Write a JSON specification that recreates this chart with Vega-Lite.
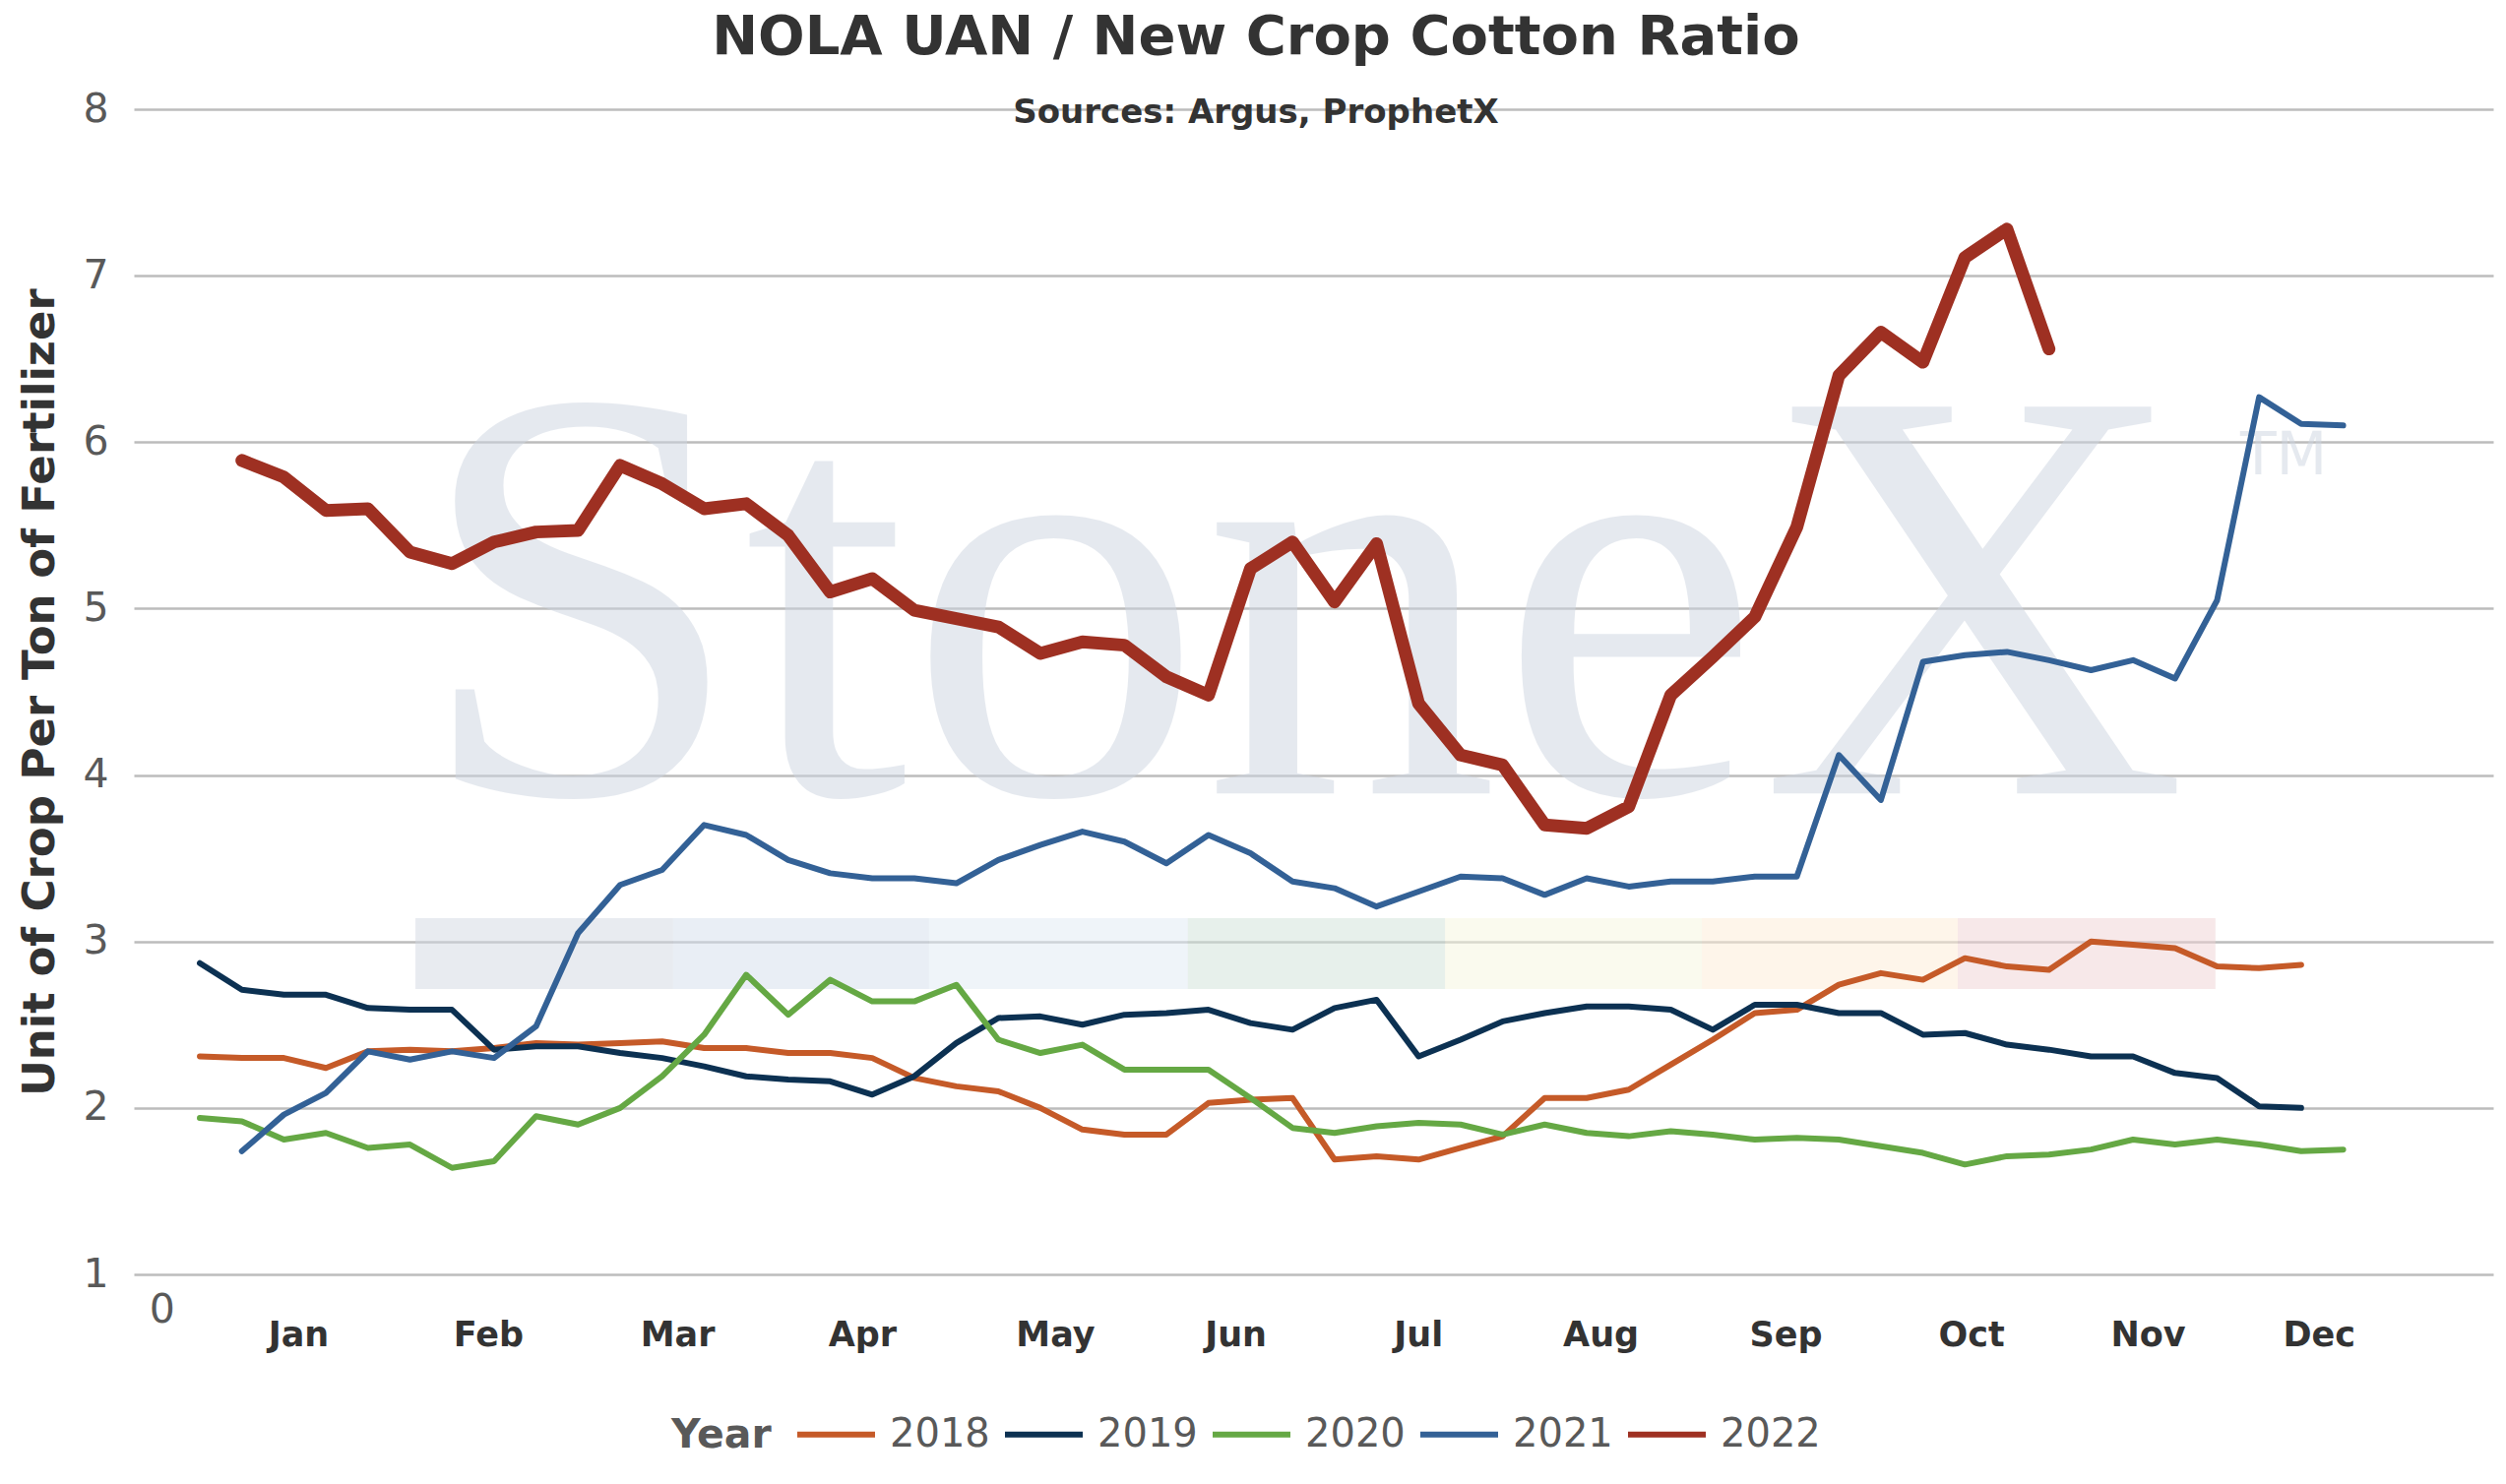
{
  "$schema": "https://vega.github.io/schema/vega-lite/v6.json",
  "width": 2397,
  "height": 1184,
  "autosize": {"type": "none"},
  "padding": {"left": 136, "top": 111, "right": 13, "bottom": 213},
  "background": "white",
  "title": {
    "text": "NOLA UAN / New Crop Cotton Ratio",
    "subtitle": "Sources: Argus, ProphetX",
    "fontSize": 56,
    "fontWeight": "bold",
    "color": "#333333",
    "subtitleFontSize": 34,
    "subtitleFontWeight": "bold",
    "subtitleColor": "#333333",
    "subtitlePadding": 31,
    "anchor": "middle",
    "frame": "bounds",
    "offset": -43
  },
  "datasets": {
    "series": [
      {"year": "2018", "week": 0, "ratio": 2.31}, {"year": "2018", "week": 1, "ratio": 2.30}, {"year": "2018", "week": 2, "ratio": 2.30}, {"year": "2018", "week": 3, "ratio": 2.24}, {"year": "2018", "week": 4, "ratio": 2.34}, {"year": "2018", "week": 5, "ratio": 2.35}, {"year": "2018", "week": 6, "ratio": 2.34}, {"year": "2018", "week": 7, "ratio": 2.36}, {"year": "2018", "week": 8, "ratio": 2.39}, {"year": "2018", "week": 9, "ratio": 2.38},
      {"year": "2018", "week": 10, "ratio": 2.39}, {"year": "2018", "week": 11, "ratio": 2.40}, {"year": "2018", "week": 12, "ratio": 2.36}, {"year": "2018", "week": 13, "ratio": 2.36}, {"year": "2018", "week": 14, "ratio": 2.33}, {"year": "2018", "week": 15, "ratio": 2.33}, {"year": "2018", "week": 16, "ratio": 2.30}, {"year": "2018", "week": 17, "ratio": 2.18}, {"year": "2018", "week": 18, "ratio": 2.13}, {"year": "2018", "week": 19, "ratio": 2.10},
      {"year": "2018", "week": 20, "ratio": 2.00}, {"year": "2018", "week": 21, "ratio": 1.87}, {"year": "2018", "week": 22, "ratio": 1.84}, {"year": "2018", "week": 23, "ratio": 1.84}, {"year": "2018", "week": 24, "ratio": 2.03}, {"year": "2018", "week": 25, "ratio": 2.05}, {"year": "2018", "week": 26, "ratio": 2.06}, {"year": "2018", "week": 27, "ratio": 1.69}, {"year": "2018", "week": 28, "ratio": 1.71}, {"year": "2018", "week": 29, "ratio": 1.69},
      {"year": "2018", "week": 30, "ratio": 1.76}, {"year": "2018", "week": 31, "ratio": 1.83}, {"year": "2018", "week": 32, "ratio": 2.06}, {"year": "2018", "week": 33, "ratio": 2.06}, {"year": "2018", "week": 34, "ratio": 2.11}, {"year": "2018", "week": 35, "ratio": 2.26}, {"year": "2018", "week": 36, "ratio": 2.41}, {"year": "2018", "week": 37, "ratio": 2.57}, {"year": "2018", "week": 38, "ratio": 2.59}, {"year": "2018", "week": 39, "ratio": 2.74},
      {"year": "2018", "week": 40, "ratio": 2.81}, {"year": "2018", "week": 41, "ratio": 2.77}, {"year": "2018", "week": 42, "ratio": 2.90}, {"year": "2018", "week": 43, "ratio": 2.85}, {"year": "2018", "week": 44, "ratio": 2.83}, {"year": "2018", "week": 45, "ratio": 3.00}, {"year": "2018", "week": 46, "ratio": 2.98}, {"year": "2018", "week": 47, "ratio": 2.96}, {"year": "2018", "week": 48, "ratio": 2.85}, {"year": "2018", "week": 49, "ratio": 2.84},
      {"year": "2018", "week": 50, "ratio": 2.86},

      {"year": "2019", "week": 0, "ratio": 2.87}, {"year": "2019", "week": 1, "ratio": 2.71}, {"year": "2019", "week": 2, "ratio": 2.68}, {"year": "2019", "week": 3, "ratio": 2.68}, {"year": "2019", "week": 4, "ratio": 2.60}, {"year": "2019", "week": 5, "ratio": 2.59}, {"year": "2019", "week": 6, "ratio": 2.59}, {"year": "2019", "week": 7, "ratio": 2.35}, {"year": "2019", "week": 8, "ratio": 2.37}, {"year": "2019", "week": 9, "ratio": 2.37},
      {"year": "2019", "week": 10, "ratio": 2.33}, {"year": "2019", "week": 11, "ratio": 2.30}, {"year": "2019", "week": 12, "ratio": 2.25}, {"year": "2019", "week": 13, "ratio": 2.19}, {"year": "2019", "week": 14, "ratio": 2.17}, {"year": "2019", "week": 15, "ratio": 2.16}, {"year": "2019", "week": 16, "ratio": 2.08}, {"year": "2019", "week": 17, "ratio": 2.19}, {"year": "2019", "week": 18, "ratio": 2.39}, {"year": "2019", "week": 19, "ratio": 2.54},
      {"year": "2019", "week": 20, "ratio": 2.55}, {"year": "2019", "week": 21, "ratio": 2.50}, {"year": "2019", "week": 22, "ratio": 2.56}, {"year": "2019", "week": 23, "ratio": 2.57}, {"year": "2019", "week": 24, "ratio": 2.59}, {"year": "2019", "week": 25, "ratio": 2.51}, {"year": "2019", "week": 26, "ratio": 2.47}, {"year": "2019", "week": 27, "ratio": 2.60}, {"year": "2019", "week": 28, "ratio": 2.65}, {"year": "2019", "week": 29, "ratio": 2.31},
      {"year": "2019", "week": 30, "ratio": 2.41}, {"year": "2019", "week": 31, "ratio": 2.52}, {"year": "2019", "week": 32, "ratio": 2.57}, {"year": "2019", "week": 33, "ratio": 2.61}, {"year": "2019", "week": 34, "ratio": 2.61}, {"year": "2019", "week": 35, "ratio": 2.59}, {"year": "2019", "week": 36, "ratio": 2.47}, {"year": "2019", "week": 37, "ratio": 2.62}, {"year": "2019", "week": 38, "ratio": 2.62}, {"year": "2019", "week": 39, "ratio": 2.57},
      {"year": "2019", "week": 40, "ratio": 2.57}, {"year": "2019", "week": 41, "ratio": 2.44}, {"year": "2019", "week": 42, "ratio": 2.45}, {"year": "2019", "week": 43, "ratio": 2.38}, {"year": "2019", "week": 44, "ratio": 2.35}, {"year": "2019", "week": 45, "ratio": 2.31}, {"year": "2019", "week": 46, "ratio": 2.31}, {"year": "2019", "week": 47, "ratio": 2.21}, {"year": "2019", "week": 48, "ratio": 2.18}, {"year": "2019", "week": 49, "ratio": 2.01},
      {"year": "2019", "week": 50, "ratio": 2.00},

      {"year": "2020", "week": 0, "ratio": 1.94}, {"year": "2020", "week": 1, "ratio": 1.92}, {"year": "2020", "week": 2, "ratio": 1.81}, {"year": "2020", "week": 3, "ratio": 1.85}, {"year": "2020", "week": 4, "ratio": 1.76}, {"year": "2020", "week": 5, "ratio": 1.78}, {"year": "2020", "week": 6, "ratio": 1.64}, {"year": "2020", "week": 7, "ratio": 1.68}, {"year": "2020", "week": 8, "ratio": 1.95}, {"year": "2020", "week": 9, "ratio": 1.90},
      {"year": "2020", "week": 10, "ratio": 2.00}, {"year": "2020", "week": 11, "ratio": 2.19}, {"year": "2020", "week": 12, "ratio": 2.44}, {"year": "2020", "week": 13, "ratio": 2.80}, {"year": "2020", "week": 14, "ratio": 2.56}, {"year": "2020", "week": 15, "ratio": 2.77}, {"year": "2020", "week": 16, "ratio": 2.64}, {"year": "2020", "week": 17, "ratio": 2.64}, {"year": "2020", "week": 18, "ratio": 2.74}, {"year": "2020", "week": 19, "ratio": 2.41},
      {"year": "2020", "week": 20, "ratio": 2.33}, {"year": "2020", "week": 21, "ratio": 2.38}, {"year": "2020", "week": 22, "ratio": 2.23}, {"year": "2020", "week": 23, "ratio": 2.23}, {"year": "2020", "week": 24, "ratio": 2.23}, {"year": "2020", "week": 25, "ratio": 2.06}, {"year": "2020", "week": 26, "ratio": 1.88}, {"year": "2020", "week": 27, "ratio": 1.85}, {"year": "2020", "week": 28, "ratio": 1.89}, {"year": "2020", "week": 29, "ratio": 1.91},
      {"year": "2020", "week": 30, "ratio": 1.90}, {"year": "2020", "week": 31, "ratio": 1.84}, {"year": "2020", "week": 32, "ratio": 1.90}, {"year": "2020", "week": 33, "ratio": 1.85}, {"year": "2020", "week": 34, "ratio": 1.83}, {"year": "2020", "week": 35, "ratio": 1.86}, {"year": "2020", "week": 36, "ratio": 1.84}, {"year": "2020", "week": 37, "ratio": 1.81}, {"year": "2020", "week": 38, "ratio": 1.82}, {"year": "2020", "week": 39, "ratio": 1.81},
      {"year": "2020", "week": 40, "ratio": 1.77}, {"year": "2020", "week": 41, "ratio": 1.73}, {"year": "2020", "week": 42, "ratio": 1.66}, {"year": "2020", "week": 43, "ratio": 1.71}, {"year": "2020", "week": 44, "ratio": 1.72}, {"year": "2020", "week": 45, "ratio": 1.75}, {"year": "2020", "week": 46, "ratio": 1.81}, {"year": "2020", "week": 47, "ratio": 1.78}, {"year": "2020", "week": 48, "ratio": 1.81}, {"year": "2020", "week": 49, "ratio": 1.78},
      {"year": "2020", "week": 50, "ratio": 1.74}, {"year": "2020", "week": 51, "ratio": 1.75},

      {"year": "2021", "week": 1, "ratio": 1.74}, {"year": "2021", "week": 2, "ratio": 1.96}, {"year": "2021", "week": 3, "ratio": 2.09}, {"year": "2021", "week": 4, "ratio": 2.34}, {"year": "2021", "week": 5, "ratio": 2.29}, {"year": "2021", "week": 6, "ratio": 2.34}, {"year": "2021", "week": 7, "ratio": 2.30}, {"year": "2021", "week": 8, "ratio": 2.49}, {"year": "2021", "week": 9, "ratio": 3.05},
      {"year": "2021", "week": 10, "ratio": 3.34}, {"year": "2021", "week": 11, "ratio": 3.43}, {"year": "2021", "week": 12, "ratio": 3.70}, {"year": "2021", "week": 13, "ratio": 3.64}, {"year": "2021", "week": 14, "ratio": 3.49}, {"year": "2021", "week": 15, "ratio": 3.41}, {"year": "2021", "week": 16, "ratio": 3.38}, {"year": "2021", "week": 17, "ratio": 3.38}, {"year": "2021", "week": 18, "ratio": 3.35}, {"year": "2021", "week": 19, "ratio": 3.49},
      {"year": "2021", "week": 20, "ratio": 3.58}, {"year": "2021", "week": 21, "ratio": 3.66}, {"year": "2021", "week": 22, "ratio": 3.60}, {"year": "2021", "week": 23, "ratio": 3.47}, {"year": "2021", "week": 24, "ratio": 3.64}, {"year": "2021", "week": 25, "ratio": 3.53}, {"year": "2021", "week": 26, "ratio": 3.36}, {"year": "2021", "week": 27, "ratio": 3.32}, {"year": "2021", "week": 28, "ratio": 3.21}, {"year": "2021", "week": 29, "ratio": 3.30},
      {"year": "2021", "week": 30, "ratio": 3.39}, {"year": "2021", "week": 31, "ratio": 3.38}, {"year": "2021", "week": 32, "ratio": 3.28}, {"year": "2021", "week": 33, "ratio": 3.38}, {"year": "2021", "week": 34, "ratio": 3.33}, {"year": "2021", "week": 35, "ratio": 3.36}, {"year": "2021", "week": 36, "ratio": 3.36}, {"year": "2021", "week": 37, "ratio": 3.39}, {"year": "2021", "week": 38, "ratio": 3.39}, {"year": "2021", "week": 39, "ratio": 4.12},
      {"year": "2021", "week": 40, "ratio": 3.85}, {"year": "2021", "week": 41, "ratio": 4.68}, {"year": "2021", "week": 42, "ratio": 4.72}, {"year": "2021", "week": 43, "ratio": 4.74}, {"year": "2021", "week": 44, "ratio": 4.69}, {"year": "2021", "week": 45, "ratio": 4.63}, {"year": "2021", "week": 46, "ratio": 4.69}, {"year": "2021", "week": 47, "ratio": 4.58}, {"year": "2021", "week": 48, "ratio": 5.05}, {"year": "2021", "week": 49, "ratio": 6.27},
      {"year": "2021", "week": 50, "ratio": 6.11}, {"year": "2021", "week": 51, "ratio": 6.10},

      {"year": "2022", "week": 1, "ratio": 5.89}, {"year": "2022", "week": 2, "ratio": 5.79}, {"year": "2022", "week": 3, "ratio": 5.59}, {"year": "2022", "week": 4, "ratio": 5.60}, {"year": "2022", "week": 5, "ratio": 5.34}, {"year": "2022", "week": 6, "ratio": 5.27}, {"year": "2022", "week": 7, "ratio": 5.40}, {"year": "2022", "week": 8, "ratio": 5.46}, {"year": "2022", "week": 9, "ratio": 5.47},
      {"year": "2022", "week": 10, "ratio": 5.86}, {"year": "2022", "week": 11, "ratio": 5.75}, {"year": "2022", "week": 12, "ratio": 5.60}, {"year": "2022", "week": 13, "ratio": 5.63}, {"year": "2022", "week": 14, "ratio": 5.44}, {"year": "2022", "week": 15, "ratio": 5.10}, {"year": "2022", "week": 16, "ratio": 5.18}, {"year": "2022", "week": 17, "ratio": 4.99}, {"year": "2022", "week": 18, "ratio": 4.94}, {"year": "2022", "week": 19, "ratio": 4.89},
      {"year": "2022", "week": 20, "ratio": 4.73}, {"year": "2022", "week": 21, "ratio": 4.80}, {"year": "2022", "week": 22, "ratio": 4.78}, {"year": "2022", "week": 23, "ratio": 4.59}, {"year": "2022", "week": 24, "ratio": 4.48}, {"year": "2022", "week": 25, "ratio": 5.24}, {"year": "2022", "week": 26, "ratio": 5.40}, {"year": "2022", "week": 27, "ratio": 5.04}, {"year": "2022", "week": 28, "ratio": 5.39}, {"year": "2022", "week": 29, "ratio": 4.43},
      {"year": "2022", "week": 30, "ratio": 4.12}, {"year": "2022", "week": 31, "ratio": 4.06}, {"year": "2022", "week": 32, "ratio": 3.70}, {"year": "2022", "week": 33, "ratio": 3.68}, {"year": "2022", "week": 34, "ratio": 3.81}, {"year": "2022", "week": 35, "ratio": 4.48}, {"year": "2022", "week": 36, "ratio": 4.71}, {"year": "2022", "week": 37, "ratio": 4.95}, {"year": "2022", "week": 38, "ratio": 5.49}, {"year": "2022", "week": 39, "ratio": 6.40},
      {"year": "2022", "week": 40, "ratio": 6.66}, {"year": "2022", "week": 41, "ratio": 6.48}, {"year": "2022", "week": 42, "ratio": 7.11}, {"year": "2022", "week": 43, "ratio": 7.28}, {"year": "2022", "week": 44, "ratio": 6.56}
    ],
    "strip": [
      {"segment": "a", "start": 5.13, "end": 11.26},
      {"segment": "b", "start": 11.26, "end": 17.35},
      {"segment": "c", "start": 17.35, "end": 23.51},
      {"segment": "d", "start": 23.51, "end": 29.63},
      {"segment": "e", "start": 29.63, "end": 35.74},
      {"segment": "f", "start": 35.74, "end": 41.83},
      {"segment": "g", "start": 41.83, "end": 47.96}
    ]
  },
  "encoding": {
    "x": {
      "type": "quantitative",
      "scale": {"domain": [-1.57, 54.57], "nice": false, "zero": false},
      "axis": {
        "title": null,
        "domain": false,
        "ticks": false,
        "grid": false,
        "values": [-0.91, 2.34, 6.86, 11.36, 15.76, 20.35, 24.64, 28.99, 33.33, 37.73, 42.15, 46.35, 50.42],
        "labelExpr": "datum.value < 0 ? '0' : datum.value < 4 ? 'Jan' : datum.value < 9 ? 'Feb' : datum.value < 13 ? 'Mar' : datum.value < 18 ? 'Apr' : datum.value < 22 ? 'May' : datum.value < 26 ? 'Jun' : datum.value < 31 ? 'Jul' : datum.value < 35 ? 'Aug' : datum.value < 40 ? 'Sep' : datum.value < 44 ? 'Oct' : datum.value < 48 ? 'Nov' : 'Dec'",
        "labelFontSize": {"condition": {"test": "datum.value < 0", "value": 41}, "value": 35},
        "labelFontWeight": {"condition": {"test": "datum.value < 0", "value": "normal"}, "value": "bold"},
        "labelColor": {"condition": {"test": "datum.value < 0", "value": "#595959"}, "value": "#333333"},
        "labelPadding": {"condition": {"test": "datum.value < 0", "value": 16}, "value": 44},
        "labelFlush": false,
        "labelOverlap": false
      }
    },
    "y": {
      "type": "quantitative",
      "scale": {"domain": [1, 8], "nice": false, "zero": false},
      "axis": {
        "title": "Unit of Crop Per Ton of Fertilizer",
        "titleFontSize": 45,
        "titleFontWeight": "bold",
        "titleColor": "#333333",
        "titlePadding": 20,
        "values": [1, 2, 3, 4, 5, 6, 7, 8],
        "grid": true,
        "gridColor": "#bcbcbc",
        "gridWidth": 2.5,
        "domain": false,
        "ticks": false,
        "labelFontSize": 41,
        "labelColor": "#595959",
        "labelPadding": 26
      }
    }
  },
  "layer": [
    {
      "data": {"name": "strip"},
      "mark": {"type": "rect", "opacity": 0.5},
      "encoding": {
        "x": {"field": "start"},
        "x2": {"field": "end"},
        "y": {"datum": 2.714},
        "y2": {"datum": 3.14},
        "fill": {
          "field": "segment",
          "type": "nominal",
          "scale": {"domain": ["a", "b", "c", "d", "e", "f", "g"], "range": ["#D1D7E1", "#D3DDEB", "#DFE9F3", "#CFE1D7", "#F5F5DD", "#FDEBD5", "#EFD1D3"]},
          "legend": null
        }
      }
    },
    {
      "data": {"values": [{"mark": "StoneX"}]},
      "mark": {"type": "text", "font": "Liberation Serif", "fontSize": 600, "align": "left", "baseline": "alphabetic", "fill": "#CDD5E1", "opacity": 0.5},
      "encoding": {
        "x": {"datum": 5.13},
        "y": {"datum": 3.89},
        "text": {"field": "mark"}
      }
    },
    {
      "data": {"values": [{"mark": "TM"}]},
      "mark": {"type": "text", "font": "DejaVu Sans", "fontSize": 60, "align": "left", "baseline": "top", "fill": "#CDD5E1", "opacity": 0.5},
      "encoding": {
        "x": {"datum": 48.55},
        "y": {"datum": 6.085},
        "text": {"field": "mark"}
      }
    },
    {
      "data": {"name": "series"},
      "mark": {"type": "line", "strokeCap": "round", "strokeJoin": "round"},
      "encoding": {
        "x": {"field": "week"},
        "y": {"field": "ratio"},
        "color": {
          "field": "year",
          "type": "nominal",
          "scale": {"domain": ["2018", "2019", "2020", "2021", "2022"], "range": ["#C55A28", "#0C3152", "#65A844", "#336196", "#9E3022"]},
          "legend": {
            "orient": "none",
            "legendX": 546,
            "legendY": 1304,
            "direction": "horizontal",
            "title": "Year",
            "titleOrient": "left",
            "titleAnchor": "middle",
            "titleBaseline": "line-top",
            "titleLineHeight": 26,
            "titleFontSize": 41,
            "titleFontWeight": "bold",
            "titleColor": "#595959",
            "titlePadding": 23,
            "labelFontSize": 40,
            "labelColor": "#595959",
            "symbolType": "stroke",
            "symbolSize": 6241,
            "symbolStrokeWidth": 6,
            "labelOffset": 12,
            "columnPadding": 3
          }
        },
        "strokeWidth": {
          "condition": {"test": "datum.year === '2022'", "value": 13},
          "value": 6
        }
      }
    }
  ],
  "config": {
    "view": {"stroke": null},
    "font": "DejaVu Sans"
  }
}
